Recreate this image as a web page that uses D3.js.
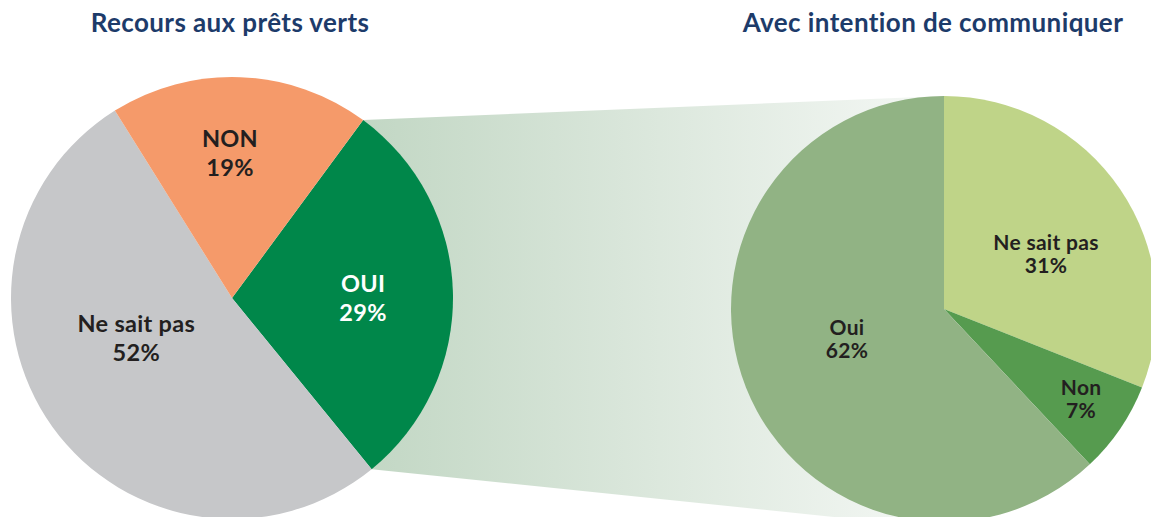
<!DOCTYPE html>
<html lang="fr">
<head>
    <meta charset="UTF-8">
    <script src="https://cdnjs.cloudflare.com/ajax/libs/d3/7.8.5/d3.min.js"></script>
    <title>Recours aux prêts verts</title>
    <style>
        body { margin: 0; background: #fff; }
        .chart-title {
            fill: #1D3B6A;
            font-family: Lato, "Open Sans", sans-serif;
            font-size: 26px;
            font-weight: 700;
            letter-spacing: 0.4px;
        }
        .slice-label {
            font-family: Lato, "Open Sans", sans-serif;
            font-weight: 700;
            text-anchor: middle;
            letter-spacing: 0.3px;
        }
    </style>
</head>
<body>
<script>
    // Recours aux prêts verts
    const leftLabels = ['OUI', 'Ne sait pas', 'NON'];
    const leftValues = [29, 52, 19];
    const leftColors = ['#00874A', '#C6C7C9', '#F59A6A'];

    // Avec intention de communiquer
    const rightLabels = ['Ne sait pas', 'Non', 'Oui'];
    const rightValues = [31, 7, 62];
    const rightColors = ['#BFD488', '#569B4F', '#91B384'];

    const titles = ['Recours aux prêts verts', 'Avec intention de communiquer'];

    const width = 1151;
    const height = 517;
    const deg = Math.PI / 180;

    // geometry of the two pies
    const left = { cx: 232, cy: 298, r: 221, start: 36.4 * deg, fontSize: 23.5, lineH: 29 };
    const right = { cx: 944, cy: 309, r: 213, start: 0, fontSize: 21, lineH: 23 };

    // label placement: radius fraction and angle nudge (deg), per slice
    const leftPlace = [{ f: 0.593, da: 1.3 }, { f: 0.469, da: 13 }, { f: 0.656, da: -3 }];
    const rightPlace = [{ f: 0.544, da: 5.9 }, { f: 0.771, da: -0.8 }, { f: 0.476, da: 4.7 }];
    const leftLabelColors = ['#FFFFFF', '#231F20', '#231F20'];

    const svg = d3.select('body').append('svg')
        .attr('width', width)
        .attr('height', height);

    const pieLeft = d3.pie().sort(null).value(d => d)
        .startAngle(left.start).endAngle(left.start + 2 * Math.PI);
    const pieRight = d3.pie().sort(null).value(d => d)
        .startAngle(right.start).endAngle(right.start + 2 * Math.PI);

    const arcsLeft = pieLeft(leftValues);
    const arcsRight = pieRight(rightValues);

    // bande de liaison entre la part OUI et le camembert de droite
    const oui = arcsLeft[0];
    const onCircle = (p, a) => [p.cx + p.r * Math.sin(a), p.cy - p.r * Math.cos(a)];
    const p1 = onCircle(left, oui.startAngle);
    const p2 = onCircle(left, oui.endAngle);

    const defs = svg.append('defs');
    const grad = defs.append('linearGradient')
        .attr('id', 'band')
        .attr('gradientUnits', 'userSpaceOnUse')
        .attr('x1', p1[0]).attr('x2', right.cx)
        .attr('y1', 0).attr('y2', 0);
    grad.append('stop').attr('offset', '0%').attr('stop-color', '#C2D7C4');
    grad.append('stop').attr('offset', '100%').attr('stop-color', '#F5F8F5');

    svg.append('path')
        .attr('d', d3.line()([
            p1,
            [right.cx, right.cy - right.r],
            [right.cx, right.cy + right.r * 1.03],
            p2
        ]) + 'Z')
        .attr('fill', 'url(#band)');

    function drawPie(cfg, arcs, labels, colors, place, textColors) {
        const g = svg.append('g')
            .attr('transform', 'translate(' + cfg.cx + ',' + cfg.cy + ')');
        const arc = d3.arc().innerRadius(0).outerRadius(cfg.r);

        g.selectAll('.slice')
            .data(arcs)
            .enter()
            .append('path')
            .attr('class', 'slice')
            .attr('d', arc)
            .attr('fill', (d, i) => colors[i]);

        const lbl = g.selectAll('.slice-label')
            .data(arcs)
            .enter()
            .append('text')
            .attr('class', 'slice-label')
            .style('font-size', cfg.fontSize + 'px')
            .style('fill', (d, i) => textColors ? textColors[i] : '#231F20')
            .attr('transform', (d, i) => {
                const a = (d.startAngle + d.endAngle) / 2 + place[i].da * deg;
                const rr = cfg.r * place[i].f;
                return 'translate(' + (rr * Math.sin(a)) + ',' + (-rr * Math.cos(a)) + ')';
            });

        lbl.append('tspan')
            .attr('x', 0)
            .attr('y', -cfg.lineH / 2 + cfg.fontSize * 0.36)
            .text((d, i) => labels[i]);
        lbl.append('tspan')
            .attr('x', 0)
            .attr('y', cfg.lineH / 2 + cfg.fontSize * 0.36)
            .text(d => d.data + '%');
    }

    drawPie(left, arcsLeft, leftLabels, leftColors, leftPlace, leftLabelColors);
    drawPie(right, arcsRight, rightLabels, rightColors, rightPlace, null);

    // titres
    svg.append('text')
        .attr('class', 'chart-title')
        .attr('x', 230).attr('y', 32)
        .attr('text-anchor', 'middle')
        .text(titles[0]);
    svg.append('text')
        .attr('class', 'chart-title')
        .attr('x', 933).attr('y', 32)
        .attr('text-anchor', 'middle')
        .text(titles[1]);
</script>
</body>
</html>
